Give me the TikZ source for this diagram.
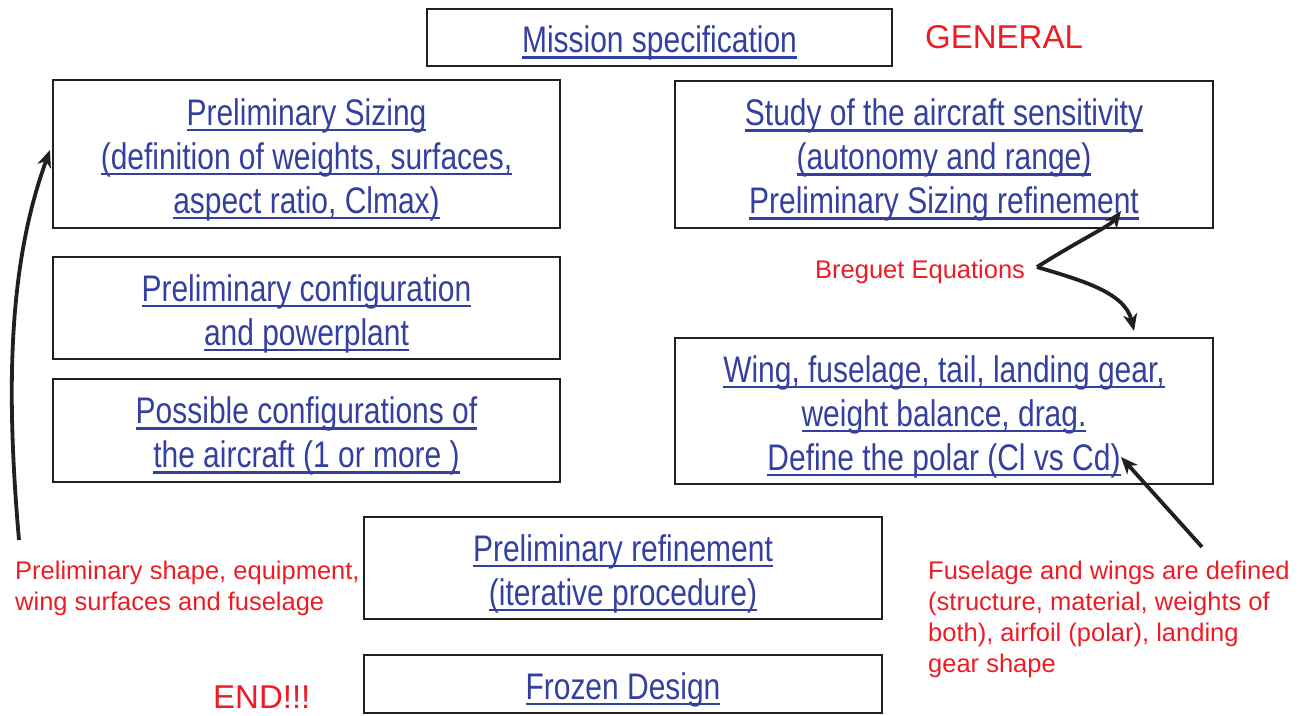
\documentclass[tikz,border=0pt]{standalone}
\usepackage{fontspec}
\setmainfont{Liberation Sans}
\newfontfamily\nar[FakeStretch=0.81]{Liberation Sans}
\usetikzlibrary{arrows.meta}
\definecolor{lnkblue}{RGB}{52,64,160}
\definecolor{annred}{RGB}{237,28,36}
\definecolor{boxline}{RGB}{35,31,32}
\newsavebox\ulbox
\newcommand\ul[1]{\sbox\ulbox{#1}\rlap{\rule[-0.17em]{\wd\ulbox}{0.07em}}\usebox\ulbox}
\newcommand\tp{\rule{0pt}{38pt}}
\tikzset{
  box/.style={draw=boxline, line width=2.6pt, inner sep=0pt, align=center,
    text=lnkblue, font=\nar\fontsize{37}{44}\selectfont},
  ann/.style={text=annred, inner sep=0pt, align=left, font=\fontsize{25.5}{31}\selectfont},
  big/.style={text=annred, inner sep=0pt, font=\fontsize{33}{40}\selectfont},
  arr/.style={draw=boxline, line width=3.8pt, -{Stealth[length=17pt,width=14pt,inset=5pt]}},
}
\begin{document}
\begin{tikzpicture}[x=1pt,y=-1pt]
\useasboundingbox (0,0) rectangle (1304,715);
\node[box, minimum width=465pt, minimum height=57pt] (mission) at (659.5,37.5) {\tp\ul{Mission specification}};
\node[box, minimum width=507pt, minimum height=148pt] (sizing) at (306.5,154) {\tp\ul{Preliminary Sizing}\\\ul{(definition of weights, surfaces,}\\\ul{aspect ratio, Clmax)}};
\node[box, minimum width=538pt, minimum height=147pt] (study) at (944,154.5) {\tp\ul{Study of the aircraft sensitivity}\\\ul{(autonomy and range)}\\\ul{Preliminary Sizing refinement}};
\node[box, minimum width=507pt, minimum height=102pt] (config) at (306.5,308) {\tp\ul{Preliminary configuration}\\\ul{and powerplant}};
\node[box, minimum width=507pt, minimum height=103pt] (possible) at (306.5,430.5) {\tp\ul{Possible configurations of}\\\ul{the aircraft (1 or more )}};
\node[box, minimum width=538pt, minimum height=146pt] (wing) at (944,411) {\tp\ul{Wing, fuselage, tail, landing gear,}\\\ul{weight balance, drag.}\\\ul{Define the polar (Cl vs Cd)}};
\node[box, minimum width=518pt, minimum height=102pt] (refine) at (623,568) {\tp\ul{Preliminary refinement}\\\ul{(iterative procedure)}};
\node[box, minimum width=518pt, minimum height=58pt] (frozen) at (623,684) {\tp\ul{Frozen Design}};

\node[big, anchor=west] (general) at (925,37) {GENERAL};
\node[big, anchor=west] (endn) at (213,697) {END!!!};
\node[ann, anchor=west] (breguet) at (815,272) {Breguet Equations};
\node[ann, anchor=west] (leftann) at (15,588) {Preliminary shape, equipment,\\wing surfaces and fuselage};
\node[ann, anchor=west] (rightann) at (928,619) {Fuselage and wings are defined\\(structure, material, weights of\\both), airfoil (polar), landing\\gear shape};

\coordinate (ltail) at (19,540);
\coordinate (ltip) at (50,150);
\coordinate (bsrc) at (1037,267);
\coordinate (btip1) at (1121,211);
\coordinate (btip2) at (1134,331);
\coordinate (rtail) at (1202,547);
\coordinate (rtip) at (1121,457);

\draw[arr] (ltail) .. controls (5,380) and (10,260) .. (ltip);
\draw[arr] (bsrc) .. controls (1085,237) and (1110,226) .. (btip1);
\draw[arr] (bsrc) .. controls (1080,280) and (1125,292) .. (btip2);
\draw[arr] (rtail) -- (rtip);
\end{tikzpicture}
\end{document}
